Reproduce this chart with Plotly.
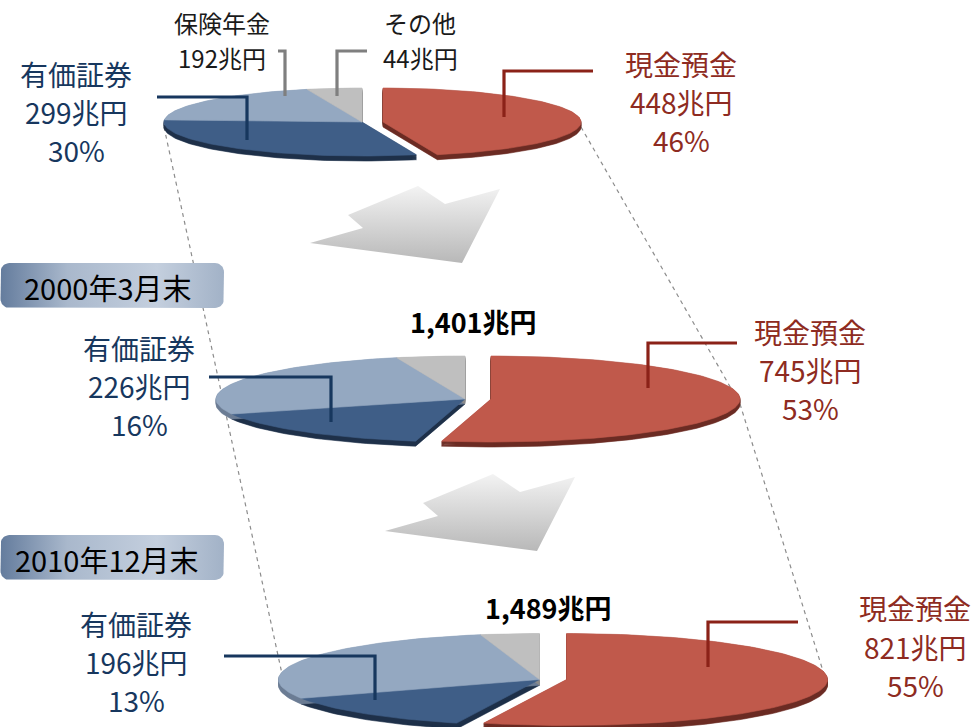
import numpy as np
import plotly.graph_objects as go

W, H = 980, 727
FONT = "Noto Sans CJK JP"

# ---- data (兆円) ----
categories = ["現金預金", "有価証券", "保険年金", "その他"]
cash = [448, 745, 821]
securities = [299, 226, 196]
insurance = [192, 368, 418]
other = [44, 62, 54]
date_tags = ["2000年3月末", "2010年12月末"]

# ---- pie geometry (pixel space) ----
pie_cx = [362, 465, 539.5]
pie_cy = [122, 399, 679.5]
pie_a = [198, 249, 261]
pie_b = [34, 43, 46]
pie_depth = [5, 5, 6]
pie_explode = [21, 26, 27]

top_colors = ["#C0594B", "#3F5E87", "#94A8C1", "#BFBFBF"]
side_colors = ["#6B2C24", "#1E3049", "#6B7C94", "#8C8C8C"]

NAVY_TXT = "#17375E"
RED_TXT = "#8E2B21"
NAVY_LINE = "#17375E"
RED_LINE = "#8B2218"
GRAY_LINE = "#7F7F7F"


def wedge(cx, cy, a, b, t0, t1):
    """Elliptical wedge, angles clockwise from 12 o'clock (degrees)."""
    n = max(3, int(abs(t1 - t0) / 360 * 240) + 2)
    th = np.radians(np.linspace(t0, t1, n))
    xs = np.concatenate([[cx], cx + a * np.sin(th), [cx]])
    ys = np.concatenate([[cy], cy - b * np.cos(th), [cy]])
    return xs, ys


fig = go.Figure()

# ---- decorative arrows between the pies ----
arrow_x = [310, 363, 348, 418, 445, 500, 462, 310]
arrow_y = [243, 228, 215, 186, 204, 189, 263, 243]
arrow_shift = [(0, 0), (75, 288)]
for dx, dy in arrow_shift:
    fig.add_trace(go.Scatter(
        x=[v + dx for v in arrow_x], y=[v + dy for v in arrow_y],
        mode="lines", fill="toself", line=dict(width=0, color="rgba(0,0,0,0)"),
        fillgradient=dict(type="vertical",
                          colorscale=[[0, "#B8B8B8"], [1, "#F3F3F3"]]),
        hoverinfo="skip"))

# ---- pies ----
for i in range(3):
    vals = [cash[i], securities[i], insurance[i], other[i]]
    total = sum(vals)
    cx, cy, a, b = pie_cx[i], pie_cy[i], pie_a[i], pie_b[i]
    depth, ex = pie_depth[i], pie_explode[i]
    bounds = np.concatenate([[0], np.cumsum(vals) / total * 360])
    wedges = []
    for k in range(4):
        sx = cx + (ex if k == 0 else 0)
        wedges.append(wedge(sx, cy, a, b, bounds[k], bounds[k + 1]))
    # extruded sides
    for k in range(4):
        xs, ys = wedges[k]
        X, Y = [], []
        for d in np.arange(0.5, depth + 0.01, 0.75):
            X += list(xs) + [None]
            Y += list(ys + d) + [None]
        fig.add_trace(go.Scatter(
            x=X, y=Y, mode="lines", fill="toself",
            fillcolor=side_colors[k], line=dict(width=0.6, color=side_colors[k]),
            hoverinfo="skip"))
    # top faces
    for k in range(4):
        xs, ys = wedges[k]
        fig.add_trace(go.Scatter(
            x=xs, y=ys, mode="lines", fill="toself",
            fillcolor=top_colors[k], line=dict(width=0.6, color=top_colors[k]),
            name=categories[k], hoverinfo="skip"))

# ---- date tags (rounded boxes with gradient) ----
def rounded_box(x0, y0, x1, y1, r):
    pts_x, pts_y = [], []
    corners = [(x1 - r, y0 + r, -90, 0), (x1 - r, y1 - r, 0, 90),
               (x0 + r, y1 - r, 90, 180), (x0 + r, y0 + r, 180, 270)]
    for ccx, ccy, s, e in corners:
        t = np.radians(np.linspace(s, e, 10))
        pts_x += list(ccx + r * np.cos(t))
        pts_y += list(ccy + r * np.sin(t))
    pts_x.append(pts_x[0])
    pts_y.append(pts_y[0])
    return pts_x, pts_y


tag_boxes = [(0.5, 263, 224, 308), (0.5, 535, 224, 580)]
for (x0, y0, x1, y1), tag in zip(tag_boxes, date_tags):
    bx, by = rounded_box(x0, y0, x1, y1, 9)
    fig.add_trace(go.Scatter(
        x=bx, y=by, mode="lines", fill="toself",
        line=dict(width=0, color="rgba(0,0,0,0)"),
        fillgradient=dict(type="horizontal",
                          colorscale=[[0, "#647C9D"], [0.3, "#A9B8CC"],
                                      [0.7, "#C4CFDE"], [1, "#A2B2C7"]]),
        hoverinfo="skip"))

# ---- connector dashed lines ----
shapes = []
left_pts = [(pie_cx[0] - pie_a[0], pie_cy[0] + pie_depth[0]),
            (pie_cx[2] - pie_a[2] + 6, pie_cy[2] + pie_depth[2])]
right_pts = [(pie_cx[i] + pie_explode[i] + pie_a[i], pie_cy[i] + pie_depth[i])
             for i in range(3)]
for pts in (left_pts, right_pts):
    for (xa, ya), (xb, yb) in zip(pts[:-1], pts[1:]):
        shapes.append(dict(type="line", x0=xa, y0=ya, x1=xb, y1=yb,
                           xref="x", yref="y", layer="below",
                           line=dict(color="#8C8C8C", width=1.2, dash="4px,4px")))

# ---- leader lines ----
leaders = [
    ([157, 247, 247], [97, 97, 140], NAVY_LINE),
    ([593, 504, 504], [71, 71, 117], RED_LINE),
    ([278, 285, 285], [51, 51, 96], GRAY_LINE),
    ([367, 337, 337], [51, 51, 96], GRAY_LINE),
    ([209, 331, 331], [377, 377, 422], NAVY_LINE),
    ([737, 648, 648], [343, 343, 388], RED_LINE),
    ([224, 375, 375], [656, 656, 700], NAVY_LINE),
    ([798, 708, 708], [622, 622, 667], RED_LINE),
]
for xs, ys, col in leaders:
    path = f"M{xs[0]},{ys[0]} L{xs[1]},{ys[1]} L{xs[2]},{ys[2]}"
    shapes.append(dict(type="path", path=path, xref="x", yref="y",
                       line=dict(color=col, width=3.2)))

# ---- text ----
annotations = []


def label(x, y, text, color, size, bold=False):
    annotations.append(dict(
        x=x, y=y, xref="x", yref="y", showarrow=False,
        text=f"<b>{text}</b>" if bold else text,
        xanchor="center", yanchor="middle", align="center",
        font=dict(family=FONT, size=size, color=color)))


def pct(v, i):
    tot = cash[i] + securities[i] + insurance[i] + other[i]
    return f"{round(100 * v / tot)}%"


BIG = 28
# x and line centres of each three-line label block
sec_pos = [(76, [74, 112, 150]), (139, [348, 386, 424]), (136, [624, 662, 700])]
cash_pos = [(681, [64, 102, 140]), (810, [332, 370, 408]), (915, [608, 647, 685])]
for i in range(3):
    x, ys = sec_pos[i]
    for y, t in zip(ys, [categories[1], f"{securities[i]}兆円", pct(securities[i], i)]):
        label(x, y, t, NAVY_TXT, BIG)
    x, ys = cash_pos[i]
    for y, t in zip(ys, [categories[0], f"{cash[i]}兆円", pct(cash[i], i)]):
        label(x, y, t, RED_TXT, BIG)

# small labels of the first pie
label(222, 22, categories[2], "#1A1A1A", 24)
label(222, 57, f"{insurance[0]}兆円", "#1A1A1A", 24)
label(420, 22, categories[3], "#1A1A1A", 24)
label(420, 57, f"{other[0]}兆円", "#1A1A1A", 24)

# totals
total_pos = [(473, 321), (548, 607)]
for i, (x, y) in zip([1, 2], total_pos):
    tot = cash[i] + securities[i] + insurance[i] + other[i]
    label(x, y, f"{tot:,}兆円", "#000000", 27, bold=True)

# date tags
for (x0, y0, x1, y1), tag in zip(tag_boxes, date_tags):
    label(107, (y0 + y1) / 2 + 1, tag, "#000000", 29)

fig.update_layout(
    width=W, height=H, margin=dict(l=0, r=0, t=0, b=0),
    paper_bgcolor="white", plot_bgcolor="white", showlegend=False,
    xaxis=dict(range=[0, W], visible=False, fixedrange=True),
    yaxis=dict(range=[H, 0], visible=False, fixedrange=True),
    shapes=shapes, annotations=annotations,
)

fig.write_html("out.html")
